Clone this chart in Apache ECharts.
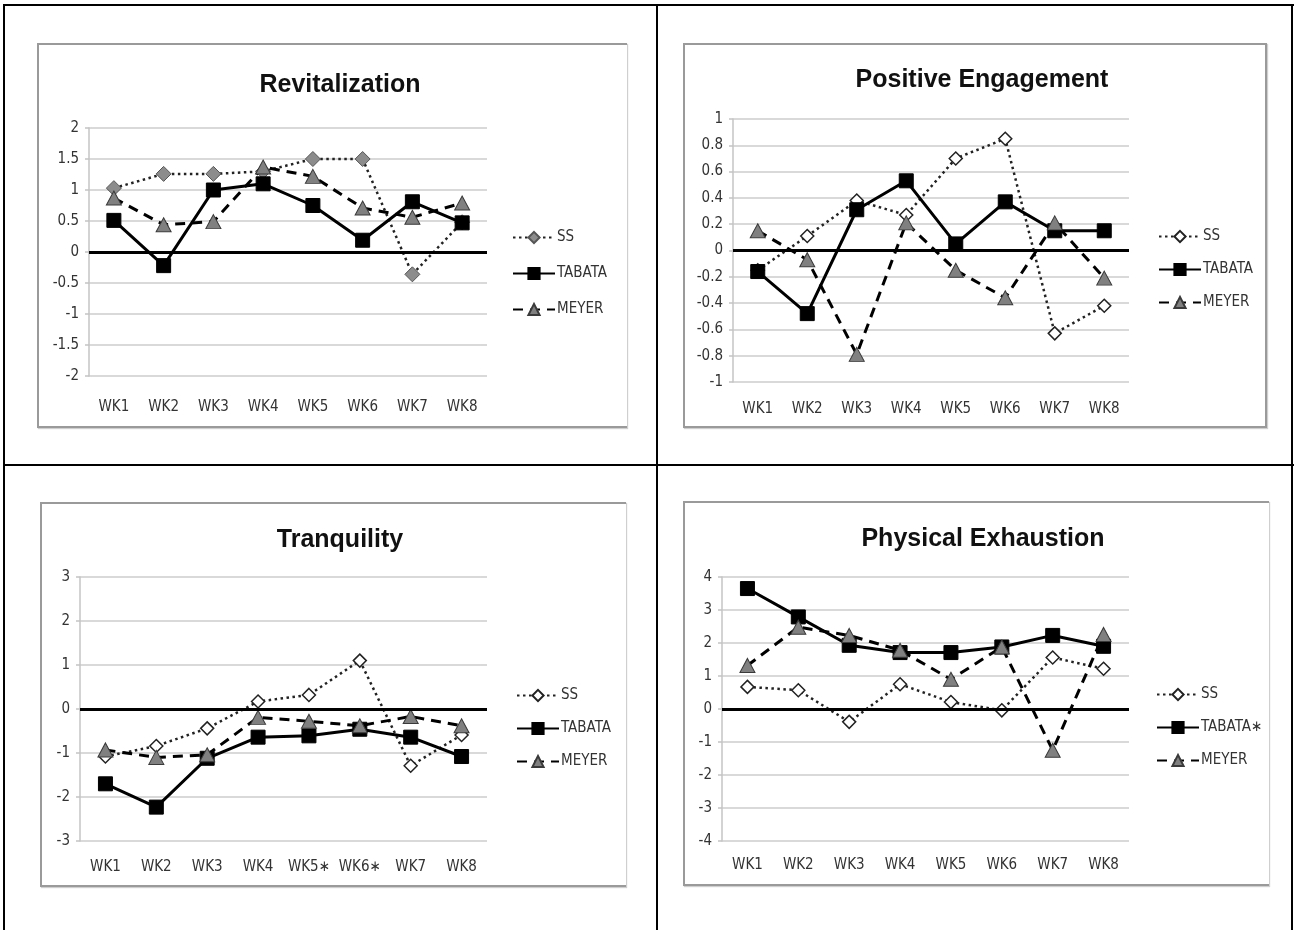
<!DOCTYPE html>
<html>
<head>
<meta charset="utf-8">
<script src="https://cdn.jsdelivr.net/npm/echarts@6/dist/echarts.min.js"></script>
<style>
  html, body { margin: 0; padding: 0; background: #fff; }
  body { width: 1300px; height: 930px; position: relative; overflow: hidden; }
  .tline { position: absolute; background: #000; }
  .box { position: absolute; border: 2px solid #9a9a9a; box-shadow: 1px 1px 1px #cfcfcf; box-sizing: border-box; background: #fff; }
  .chart { position: absolute; left: 0; top: 0; width: 1300px; height: 930px; }
</style>
</head>
<body>
<!-- table lines -->
<div class="tline" style="left:3px;top:4px;width:1291px;height:2px;"></div>
<div class="tline" style="left:3px;top:4px;width:2px;height:926px;"></div>
<div class="tline" style="left:656px;top:4px;width:2px;height:926px;"></div>
<div class="tline" style="left:1291px;top:4px;width:2px;height:926px;"></div>
<div class="tline" style="left:3px;top:464px;width:1291px;height:2px;"></div>
<!-- chart boxes -->
<div class="box" style="left:37px;top:43px;width:590px;height:385px;border-right:none;"></div>
<div class="box" style="left:683px;top:43px;width:584px;height:385px;"></div>
<div class="box" style="left:40px;top:502px;width:586px;height:385px;border-right:none;"></div>
<div class="box" style="left:683px;top:501px;width:586px;height:385px;border-right:none;"></div>

<div id="c1" class="chart"></div>
<div id="c2" class="chart"></div>
<div id="c3" class="chart"></div>
<div id="c4" class="chart"></div>

<script>
// ---------- DATA ----------
const weeks = ['WK1', 'WK2', 'WK3', 'WK4', 'WK5', 'WK6', 'WK7', 'WK8'];
const weeksTranquility = ['WK1', 'WK2', 'WK3', 'WK4', 'WK5\u2217', 'WK6\u2217', 'WK7', 'WK8'];

// Revitalization
const revSS     = [1.03, 1.26, 1.26, 1.30, 1.50, 1.50, -0.36, 0.48];
const revTabata = [0.51, -0.22, 1.00, 1.10, 0.75, 0.19, 0.81, 0.47];
const revMeyer  = [0.87, 0.44, 0.49, 1.37, 1.22, 0.71, 0.56, 0.79];

// Positive Engagement
const peSS     = [-0.15, 0.11, 0.38, 0.27, 0.70, 0.85, -0.63, -0.42];
const peTabata = [-0.16, -0.48, 0.31, 0.53, 0.05, 0.37, 0.15, 0.15];
const peMeyer  = [0.15, -0.07, -0.79, 0.21, -0.15, -0.36, 0.21, -0.21];

// Tranquility
const trSS     = [-1.08, -0.84, -0.44, 0.17, 0.32, 1.10, -1.29, -0.59];
const trTabata = [-1.70, -2.23, -1.12, -0.64, -0.61, -0.46, -0.64, -1.08];
const trMeyer  = [-0.93, -1.10, -1.04, -0.19, -0.28, -0.38, -0.17, -0.38];

// Physical Exhaustion
const exSS     = [0.67, 0.57, -0.39, 0.75, 0.21, -0.04, 1.56, 1.22];
const exTabata = [3.65, 2.79, 1.93, 1.71, 1.71, 1.88, 2.23, 1.90];
const exMeyer  = [1.32, 2.48, 2.23, 1.78, 0.90, 1.88, -1.25, 2.26];

const seriesNames = ['SS', 'TABATA', 'MEYER'];
const seriesNamesEx = ['SS', 'TABATA\u2217', 'MEYER'];

// ---------- STYLE / LAYOUT ----------
const FONT = "'Liberation Sans Narrow', 'DejaVu Sans Condensed', 'Liberation Sans', sans-serif";
const TFONT = "'Liberation Sans Narrow', 'Liberation Sans', Arial, sans-serif";

function build(cfg) {
  const ssItem = cfg.ssFilled
    ? { color: '#8c8c8c', borderColor: '#555', borderWidth: 1 }
    : { color: '#ffffff', borderColor: '#222', borderWidth: 1.5 };
  return {
    animation: false,
    backgroundColor: 'transparent',
    title: {
      text: cfg.title,
      left: cfg.titleX,
      top: cfg.titleY - 15,
      textAlign: 'center',
      textStyle: { fontFamily: TFONT, fontSize: 25, fontWeight: 'bold', color: '#111' }
    },
    legend: {
      orient: 'vertical',
      left: cfg.legendX,
      top: cfg.legendY - 7,
      itemWidth: 42,
      itemHeight: 14,
      itemGap: cfg.legendGap - 14,
      data: cfg.names,
      textStyle: { fontFamily: FONT, fontSize: 15, color: '#333', padding: [0, 0, 0, -3] }
    },
    grid: { left: cfg.grid[0], top: cfg.grid[1], width: cfg.grid[2], height: cfg.grid[3] },
    xAxis: {
      type: 'category',
      data: cfg.cats,
      boundaryGap: true,
      axisLine: { show: false },
      axisTick: { show: false },
      axisLabel: { interval: 0, margin: cfg.xMargin, fontFamily: FONT, fontSize: 15, color: '#333' }
    },
    yAxis: {
      type: 'value',
      min: cfg.min, max: cfg.max, interval: cfg.interval,
      axisLine: { show: true, lineStyle: { color: '#c4c4c4', width: 1.5 } },
      axisTick: { show: true, length: 4, lineStyle: { color: '#c4c4c4', width: 1.5 } },
      axisLabel: { margin: 10, fontFamily: FONT, fontSize: 15, color: '#333',
                   formatter: v => String(Math.round(v * 10) / 10) },
      splitLine: { show: true, lineStyle: { color: '#d9d9d9', width: 2 } }
    },
    series: [
      {
        name: cfg.names[0], type: 'line', data: cfg.ss,
        symbol: 'diamond', symbolSize: cfg.ssFilled ? 15 : 13,
        lineStyle: { color: '#222', width: 2.5, type: [2.5, 3.5] },
        itemStyle: ssItem,
        z: 2,
        markLine: {
          silent: true, symbol: 'none', animation: false,
          label: { show: false },
          lineStyle: { color: '#000', width: 3, type: 'solid' },
          data: [{ yAxis: 0 }]
        }
      },
      {
        name: cfg.names[1], type: 'line', data: cfg.tabata,
        symbol: 'rect', symbolSize: 14,
        lineStyle: { color: '#000', width: 3, type: 'solid' },
        itemStyle: { color: '#000', borderColor: '#000', borderWidth: 1 },
        z: 3
      },
      {
        name: cfg.names[2], type: 'line', data: cfg.meyer,
        symbol: 'triangle', symbolSize: [15, 14],
        lineStyle: { color: '#000', width: 3, type: [10, 7] },
        itemStyle: { color: '#808080', borderColor: '#3a3a3a', borderWidth: 1 },
        z: 4
      }
    ]
  };
}

const cfgs = [
  { id: 'c1', title: 'Revitalization', titleX: 335, titleY: 83,
    legendX: 507, legendY: 232, legendGap: 35, names: seriesNames,
    grid: [89, 128, 398, 248], cats: weeks, xMargin: 24,
    min: -2, max: 2, interval: 0.5, ssFilled: true,
    ss: revSS, tabata: revTabata, meyer: revMeyer },
  { id: 'c2', title: 'Positive Engagement', titleX: 977, titleY: 78,
    legendX: 1153, legendY: 231, legendGap: 32, names: seriesNames,
    grid: [733, 119, 396, 263], cats: weeks, xMargin: 20,
    min: -1, max: 1, interval: 0.2, ssFilled: false,
    ss: peSS, tabata: peTabata, meyer: peMeyer },
  { id: 'c3', title: 'Tranquility', titleX: 335, titleY: 538,
    legendX: 511, legendY: 690, legendGap: 32, names: seriesNames,
    grid: [80, 577, 407, 264], cats: weeksTranquility, xMargin: 19,
    min: -3, max: 3, interval: 1, ssFilled: false,
    ss: trSS, tabata: trTabata, meyer: trMeyer },
  { id: 'c4', title: 'Physical Exhaustion', titleX: 978, titleY: 537,
    legendX: 1151, legendY: 689, legendGap: 32, names: seriesNamesEx,
    grid: [722, 577, 407, 264], cats: weeks, xMargin: 17,
    min: -4, max: 4, interval: 1, ssFilled: false,
    ss: exSS, tabata: exTabata, meyer: exMeyer }
];

cfgs.forEach(cfg => {
  const chart = echarts.init(document.getElementById(cfg.id), null, { renderer: 'canvas' });
  chart.setOption(build(cfg));
});
</script>
</body>
</html>
